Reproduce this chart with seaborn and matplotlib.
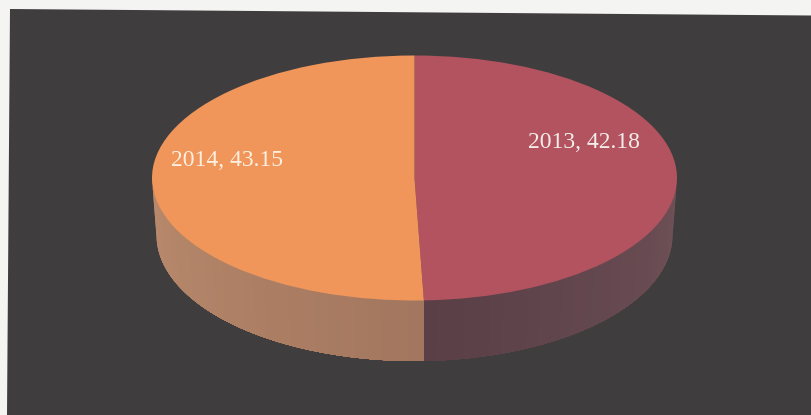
#!/usr/bin/env python3
"""3D-looking pie chart, 2013 vs 2014"""

import numpy as np
import matplotlib.pyplot as plt
import seaborn as sns

years = ["2013", "2014"]
values = [42.18, 43.15]

top_colors = ["#B2535F", "#F0965B"]
# wall shades, from the outer end of the wall to the seam
side_shades = [["#6F5157", "#5A3F47"], ["#B98A6C", "#A3775F"]]

sns.set_theme(style="white")
plt.rcParams['font.family'] = ['Liberation Serif', 'DejaVu Serif']

W, H = 811, 415
# scanned page is slightly skewed, so the dark panel is not square to the image
PANEL = [(10, 9), (811, 15.5), (811, 415), (7, 415)]

# ellipse of the top face and of the bottom edge, pixels
CX, CY, RX, RY = 414.5, 178, 262.5, 122.5
BOT_CY, BOT_RX, BOT_RY = 235, 258, 126


def to_x(px):
    return (px - CX) / RX


def to_y(py):
    return (CY - py) / RY


fig = plt.figure(figsize=(W / 100, H / 100), dpi=100, facecolor="#F4F4F2")
ax = fig.add_axes([0, 0, 1, 1])

# pie is drawn in unit circle, the axis limits squash it into an ellipse
wedges, _ = ax.pie(values, colors=top_colors, startangle=90, counterclock=False,
                   wedgeprops={'edgecolor': 'none', 'zorder': 3})
ax.set_aspect('auto')
ax.set_xlim(to_x(0), to_x(W))
ax.set_ylim(to_y(H), to_y(0))
ax.axis('off')

ax.fill([to_x(p[0]) for p in PANEL], [to_y(p[1]) for p in PANEL], color="#403D3E", lw=0, zorder=1)

# front wall, split where the slices meet
split = 90 - 360 * values[0] / sum(values)
ranges = [(0, split), (-180, split)]
for (start, end), shades in zip(ranges, side_shades):
    n_strips = 30
    edges = np.linspace(start, end, n_strips + 1)
    palette = sns.blend_palette(shades, n_strips)
    for i, col in enumerate(palette):
        # strips overlap by a few degrees so no seams show between them
        t = np.radians(np.linspace(edges[i], end, 200))
        top_x, top_y = np.cos(t), np.sin(t)
        bot_x = np.cos(t) * BOT_RX / RX
        bot_y = (CY - BOT_CY) / RY + np.sin(t) * BOT_RY / RY
        ax.fill(np.r_[top_x, bot_x[::-1]], np.r_[top_y, bot_y[::-1]],
                facecolor=col, edgecolor='none', lw=0, zorder=2)

ax.text(to_x(528), to_y(143), f"{years[0]}, {values[0]}", color="#F3EDEA",
        fontsize=17, va='center', ha='left', zorder=5)
ax.text(to_x(171), to_y(160), f"{years[1]}, {values[1]}", color="#FBEFDF",
        fontsize=17, va='center', ha='left', zorder=5)

plt.savefig("out.png", dpi=100, facecolor=fig.get_facecolor())
plt.close()
